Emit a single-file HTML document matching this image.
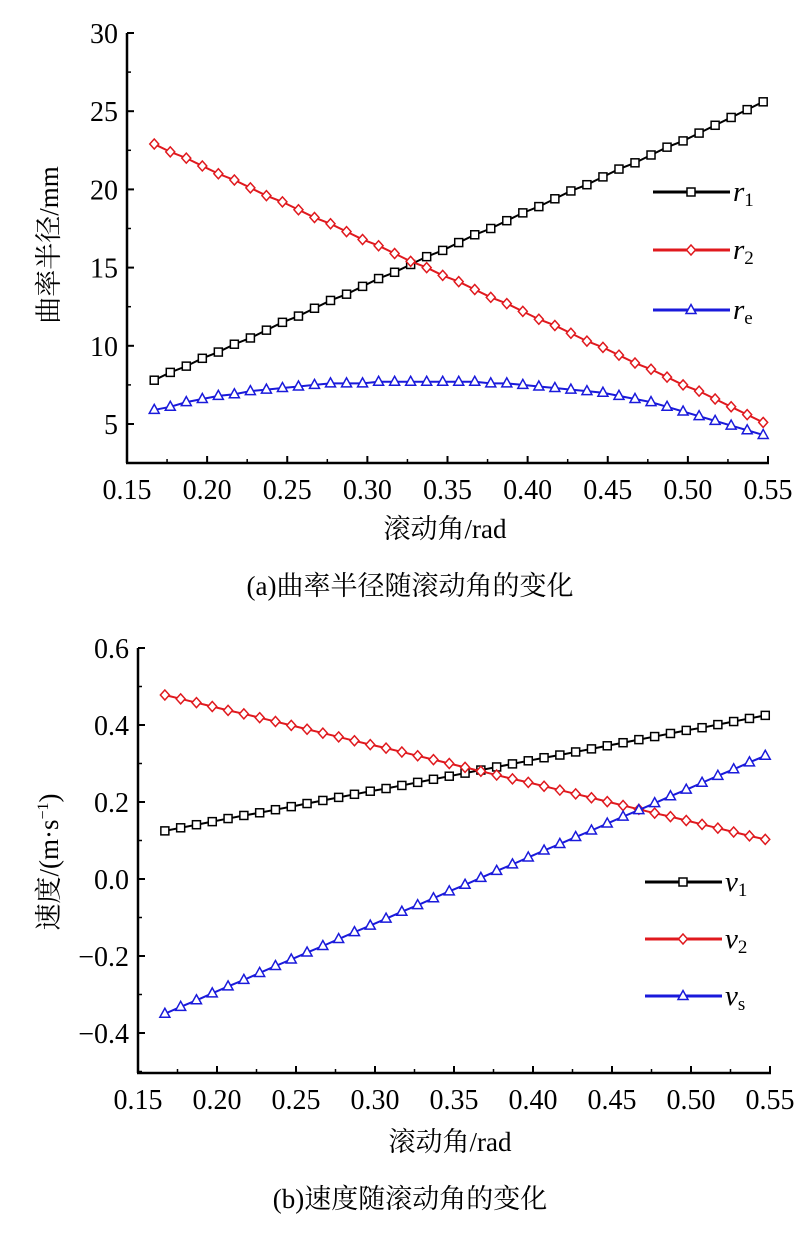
<!DOCTYPE html>
<html><head><meta charset="utf-8">
<style>
body{margin:0;background:#fff;}
svg text{font-family:"Liberation Serif","Noto Serif CJK SC",serif;fill:#000;}
</style></head>
<body>
<svg id="fig" width="797" height="1230" viewBox="0 0 797 1230" xmlns="http://www.w3.org/2000/svg">
<g id="chartA"></g>
<g id="chartB"></g>
<text x="445" y="538" font-size="27" text-anchor="middle">滚动角/rad</text>
<text x="410" y="595" font-size="27" text-anchor="middle">(a)曲率半径随滚动角的变化</text>
<text transform="translate(58,245) rotate(-90)" font-size="27" text-anchor="middle">曲率半径/mm</text>
<text x="450" y="1151" font-size="27" text-anchor="middle">滚动角/rad</text>
<text x="410" y="1208" font-size="27" text-anchor="middle">(b)速度随滚动角的变化</text>
<text transform="translate(58,862) rotate(-90)" font-size="27" text-anchor="middle">速度/(m·s<tspan font-size="16" dy="-10">−1</tspan><tspan dy="10">)</tspan></text>
</svg>
<script>
const xStart = 0.167, xEnd = 0.547;
const xTicks = ["0.15","0.20","0.25","0.30","0.35","0.40","0.45","0.50","0.55"];
const yTicksA = ["5","10","15","20","25","30"];
const yTicksB = ["−0.4","−0.2","0.0","0.2","0.4","0.6"];
const r1 = [7.8,8.3,8.7,9.2,9.6,10.1,10.5,11.0,11.5,11.9,12.4,12.9,13.3,13.8,14.3,14.7,15.2,15.7,16.1,16.6,17.1,17.5,18.0,18.5,18.9,19.4,19.9,20.3,20.8,21.3,21.7,22.2,22.7,23.1,23.6,24.1,24.6,25.1,25.6];
const r2 = [22.9,22.4,22.0,21.5,21.0,20.6,20.1,19.6,19.2,18.7,18.2,17.8,17.3,16.8,16.4,15.9,15.4,15.0,14.5,14.1,13.6,13.1,12.7,12.2,11.7,11.3,10.8,10.3,9.9,9.4,8.9,8.5,8.0,7.5,7.1,6.6,6.1,5.6,5.1];
const re = [5.9,6.1,6.4,6.6,6.8,6.9,7.1,7.2,7.3,7.4,7.5,7.6,7.6,7.6,7.7,7.7,7.7,7.7,7.7,7.7,7.7,7.6,7.6,7.5,7.4,7.3,7.2,7.1,7.0,6.8,6.6,6.4,6.1,5.8,5.5,5.2,4.9,4.6,4.3];
const v1 = [0.125,0.133,0.141,0.149,0.157,0.165,0.172,0.180,0.188,0.196,0.204,0.212,0.220,0.228,0.235,0.243,0.251,0.259,0.267,0.275,0.283,0.291,0.299,0.307,0.315,0.322,0.330,0.338,0.346,0.354,0.362,0.370,0.378,0.386,0.393,0.401,0.409,0.417,0.425];
const v2 = [0.478,0.468,0.458,0.448,0.438,0.429,0.419,0.409,0.399,0.389,0.379,0.369,0.359,0.349,0.340,0.330,0.320,0.310,0.300,0.290,0.280,0.270,0.260,0.251,0.241,0.231,0.221,0.211,0.201,0.191,0.181,0.171,0.162,0.152,0.142,0.132,0.122,0.112,0.103];
const vs = [-0.350,-0.332,-0.315,-0.297,-0.279,-0.262,-0.244,-0.226,-0.209,-0.191,-0.174,-0.156,-0.138,-0.121,-0.103,-0.085,-0.068,-0.050,-0.032,-0.015,0.003,0.021,0.038,0.056,0.074,0.091,0.109,0.126,0.144,0.162,0.179,0.197,0.215,0.232,0.250,0.268,0.285,0.303,0.320];

const NS = "http://www.w3.org/2000/svg";
function mk(tag, attrs, parent){const e=document.createElementNS(NS,tag);for(const k in attrs)e.setAttribute(k,attrs[k]);parent.appendChild(e);return e;}

function marker(g, type, x, y, color){
  let e;
  if(type==='sq') e=mk('rect',{x:x-4,y:y-4,width:8,height:8,fill:'#fff',stroke:color,'stroke-width':1.5},g);
  else if(type==='di') e=mk('polygon',{points:`${x},${y-5} ${x+4.5},${y} ${x},${y+5} ${x-4.5},${y}`,fill:'#fff',stroke:color,'stroke-width':1.5},g);
  else e=mk('polygon',{points:`${x},${y-5.5} ${x+5},${y+3.5} ${x-5},${y+3.5}`,fill:'#fff',stroke:color,'stroke-width':1.5},g);
  
  
}

function drawChart(g, cfg){
  const X = v => cfg.x0 + (v-0.15)/0.4*(cfg.x1-cfg.x0);
  const Y = v => cfg.yPix0 + (v-cfg.yv0)/(cfg.yv1-cfg.yv0)*(cfg.yPix1-cfg.yPix0);
  let ax=mk('line',{x1:cfg.x0,y1:cfg.axisTop,x2:cfg.x0,y2:cfg.axisBottom,stroke:'#000','stroke-width':2.5},g);
  
  
  ax=mk('line',{x1:cfg.x0-1,y1:cfg.axisBottom,x2:cfg.x1+1,y2:cfg.axisBottom,stroke:'#000','stroke-width':2.5},g);
  
  
  xTicks.forEach((t,i)=>{
    const v=0.15+i*0.05, px=X(v);
    mk('line',{x1:px,y1:cfg.axisBottom,x2:px,y2:cfg.axisBottom-7,stroke:'#000','stroke-width':2},g);
    if(i<xTicks.length-1){const pm=X(v+0.025);mk('line',{x1:pm,y1:cfg.axisBottom,x2:pm,y2:cfg.axisBottom-4,stroke:'#000','stroke-width':1.5},g);}
    const tx=mk('text',{x:px,y:cfg.axisBottom+36,'font-size':28,'text-anchor':'middle'},g);
    tx.textContent=t;
    
    
  });
  cfg.yTicks.forEach((t,i)=>{
    const v=cfg.yv0+i*cfg.yStep, py=Y(v);
    mk('line',{x1:cfg.x0,y1:py,x2:cfg.x0+7,y2:py,stroke:'#000','stroke-width':2},g);
    const pm=Y(v-cfg.yStep/2);
    if(pm<cfg.axisBottom) mk('line',{x1:cfg.x0,y1:pm,x2:cfg.x0+4,y2:pm,stroke:'#000','stroke-width':1.5},g);
    const tx=mk('text',{x:cfg.x0-9,y:py+10,'font-size':28,'text-anchor':'end'},g);
    tx.textContent=t;
    
    
  });
  cfg.series.forEach(s=>{
    const sg=mk('g',{},g);
    
    
    const n=s.data.length;
    const pts=s.data.map((v,i)=>[X(xStart+i*(xEnd-xStart)/(n-1)),Y(v)]);
    mk('polyline',{points:pts.map(p=>p.join(',')).join(' '),fill:'none',stroke:s.color,'stroke-width':2},sg);
    pts.forEach(p=>marker(sg,s.m,p[0],p[1],s.color));
  });
  cfg.series.forEach((s,i)=>{
    const lg=mk('g',{},g);
    
    
    const ly=cfg.legY[i];
    mk('line',{x1:cfg.legX,y1:ly,x2:cfg.legX+77,y2:ly,stroke:s.color,'stroke-width':3},lg);
    marker(lg,s.m,cfg.legX+38,ly,s.color);
    const t=mk('text',{x:cfg.legX+80,y:ly+9,'font-size':29,'font-style':'italic'},lg);
    t.textContent=s.sym;
    const sub=mk('tspan',{'font-size':19,'font-style':'normal',dy:5},t);
    sub.textContent=s.sub;
  });
}

drawChart(document.getElementById('chartA'),{
  x0:127,x1:768,axisTop:33,axisBottom:463,yv0:5,yv1:30,yPix0:424,yPix1:33,yStep:5,yTicks:yTicksA,
  legX:653,legY:[192,250,310],
  series:[{name:'r1',data:r1,color:'#000',m:'sq',sym:'r',sub:'1'},
          {name:'r2',data:r2,color:'#e0191e',m:'di',sym:'r',sub:'2'},
          {name:'re',data:re,color:'#1a1adb',m:'tr',sym:'r',sub:'e'}]
});
drawChart(document.getElementById('chartB'),{
  x0:138,x1:770,axisTop:648,axisBottom:1073,yv0:-0.4,yv1:0.6,yPix0:1033,yPix1:648,yStep:0.2,yTicks:yTicksB,
  legX:645,legY:[882,939,996],
  series:[{name:'v1',data:v1,color:'#000',m:'sq',sym:'v',sub:'1'},
          {name:'v2',data:v2,color:'#e0191e',m:'di',sym:'v',sub:'2'},
          {name:'vs',data:vs,color:'#1a1adb',m:'tr',sym:'v',sub:'s'}]
});
</script>
</body></html>
